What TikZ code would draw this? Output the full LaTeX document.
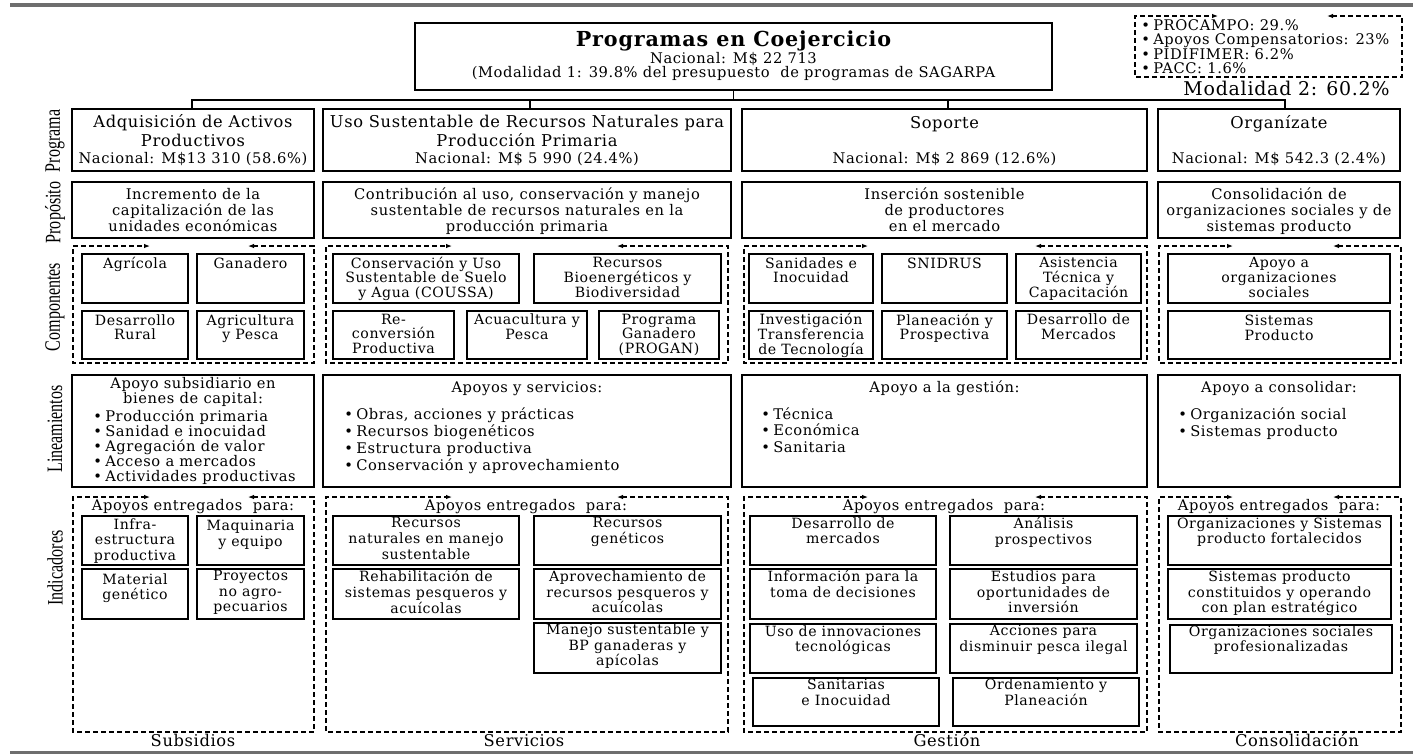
\documentclass[tikz,border=0pt]{standalone}
\usepackage{fontspec}
\setmainfont{DejaVu Serif}[LetterSpace=4]
\newfontfamily\sidefont{Liberation Serif}[FakeStretch=0.73]
\usetikzlibrary{arrows.meta,calc}
\definecolor{bargray}{HTML}{6E6E6E}

% rectangle node from its two corners (pixel-like units)
\newcommand\bx[5]{\node[box, minimum width={(#4-#2)*0.75pt}, minimum height={(#5-#3)*0.75pt}] (#1) at ({(#2+#4)/2},{(#3+#5)/2}) {};}
% centred text inside box #2, at height #3
\newcommand\tx[4][]{\node[txt,#1] (#2-t) at (#2.center |- 0,#3) {#4};}
% dashed group frame with an open top edge ending in two arrows
\newcommand\frm[7]{%
  \coordinate (#1-nw) at (#2,#3); \coordinate (#1-se) at (#4,#5);
  \coordinate (#1-a) at (#6,#3); \coordinate (#1-b) at (#7,#3);
  \draw[frame] (#1-b) -- (#1-nw -| #1-se) -- (#1-se) -- (#1-se -| #1-nw) -- (#1-nw) -- (#1-a);}
\newcommand\blt{\makebox[9pt][l]{•}}

\begin{document}
\begin{tikzpicture}[x=0.75pt,y=-0.75pt,
  box/.style={draw, rectangle, line width=1pt, inner sep=0pt},
  txt/.style={inner sep=0pt, align=center, font=\fontsize{11}{12}\selectfont,
              execute at begin node=\strut, execute at end node=\strut},
  comp/.style={font=\fontsize{10.6}{10.9}\selectfont},
  ind/.style={font=\fontsize{10.6}{11.8}\selectfont},
  prog/.style={font=\fontsize{12.2}{13.9}\selectfont},
  lst/.style={txt, align=left, anchor=west},
  side/.style={inner sep=0pt, rotate=90, font=\sidefont\fontsize{16.5}{18}\selectfont},
  foot/.style={txt, font=\fontsize{12.2}{14}\selectfont},
  frame/.style={draw, line width=0.8pt, dash pattern=on 3.6pt off 2.4pt,
                {Latex[length=4.5pt,width=3.4pt]}-{Latex[length=4.5pt,width=3.4pt]}},
  tree/.style={draw, line width=1pt}]
\useasboundingbox (0,0) rectangle (1413,754);

% page rules
\fill[bargray] (10,3) rectangle (1413,7);
\fill[bargray] (10,750.5) rectangle (1413,754);

% header
\bx{title}{415}{23}{1052}{90}
\node[txt, font=\bfseries\fontsize{15.5}{16}\selectfont] (title-a) at (733.5,41.5) {Programas en Coejercicio};
\node[txt] (title-b) at (733.5,60) {Nacional: M\$ 22 713};
\node[txt] (title-c) at (733.5,74) {(Modalidad 1: 39.8\% del presupuesto\ \ de programas de SAGARPA};

\frm{mod}{1135}{16}{1402}{77}{1218}{1327}
\node[lst, font=\fontsize{11}{10.3}\selectfont] (mod-t) at (1141,48.5)
  {\blt PROCAMPO: 29.\%\\ \blt Apoyos Compensatorios: 23\%\\ \blt PIDIFIMER: 6.2\%\\ \blt PACC: 1.6\%};
\node[txt, font=\fontsize{14.2}{16}\selectfont] (mod2) at (1286.5,91) {Modalidad 2: 60.2\%};

% programmes
\bx{p1}{72}{109}{314}{171}
\bx{p2}{323}{109}{731}{171}
\bx{p3}{742}{109}{1147}{171}
\bx{p4}{1158}{109}{1400}{171}
\tx[prog]{p1}{133.5}{Adquisición de Activos\\Productivos}
\tx[prog]{p2}{133.5}{Uso Sustentable de Recursos Naturales para\\Producción Primaria}
\tx[prog]{p3}{124.5}{Soporte}
\tx[prog]{p4}{124.5}{Organízate}
\node[txt] (p1-n) at (p1.center |- 0,160) {Nacional: M\$13 310 (58.6\%)};
\node[txt] (p2-n) at (p2.center |- 0,160) {Nacional: M\$ 5 990 (24.4\%)};
\node[txt] (p3-n) at (p3.center |- 0,160) {Nacional: M\$ 2 869 (12.6\%)};
\node[txt] (p4-n) at (p4.center |- 0,160) {Nacional: M\$ 542.3 (2.4\%)};

% tree from the header to the programmes
\coordinate (bus) at (0,100);
\coordinate (k1) at ($(p1.north)+(-1,0)$);
\coordinate (k2) at ($(p2.north)+(3,0)$);
\coordinate (k3) at ($(p3.north)+(3.5,0)$);
\coordinate (k4) at ($(p4.north)+(6,0)$);
\draw[tree] (title.south) -- (title.south |- bus);
\draw[tree] (k1) -- (k1 |- bus) -- (k4 |- bus) -- (k4);
\draw[tree] (k2) -- (k2 |- bus);
\draw[tree] (k3) -- (k3 |- bus);

% purpose
\bx{q1}{72}{182}{314}{238}
\bx{q2}{323}{182}{731}{238}
\bx{q3}{742}{182}{1147}{238}
\bx{q4}{1158}{182}{1400}{238}
\tx{q1}{212}{Incremento de la\\capitalización de las\\unidades económicas}
\tx{q2}{212}{Contribución al uso, conservación y manejo\\sustentable de recursos naturales en la\\producción primaria}
\tx{q3}{212}{Inserción sostenible\\de productores\\en el mercado}
\tx{q4}{212}{Consolidación de\\organizaciones sociales y de\\sistemas producto}

% components
\frm{fc1}{73}{246}{314}{363}{150}{248}
\frm{fc2}{326}{246}{728}{363}{452}{617}
\frm{fc3}{744}{246}{1147}{363}{868}{1035}
\frm{fc4}{1159}{246}{1401}{363}{1233}{1333}

\bx{ca1}{82}{254}{188}{303}    \tx[comp]{ca1}{265}{Agrícola}
\bx{ca2}{197}{254}{304}{303}   \tx[comp]{ca2}{265}{Ganadero}
\bx{ca3}{82}{311}{188}{359}    \tx[comp]{ca3}{329.5}{Desarrollo\\Rural}
\bx{ca4}{197}{311}{304}{359}   \tx[comp]{ca4}{329.5}{Agricultura\\y Pesca}

\bx{cb1}{333}{254}{519}{303}   \tx[comp]{cb1}{279.5}{Conservación y Uso\\Sustentable de Suelo\\y Agua (COUSSA)}
\bx{cb2}{534}{254}{721}{303}   \tx[comp]{cb2}{279.5}{Recursos\\Bioenergéticos y\\Biodiversidad}
\bx{cb3}{333}{311}{454}{359}   \tx[comp]{cb3}{336}{Re-\\conversión\\Productiva}
\bx{cb4}{467}{311}{587}{359}   \tx[comp]{cb4}{329}{Acuacultura y\\Pesca}
\bx{cb5}{599}{311}{719}{359}   \tx[comp]{cb5}{336}{Programa\\Ganadero\\(PROGAN)}

\bx{cc1}{749}{254}{873}{303}   \tx[comp]{cc1}{272.5}{Sanidades e\\Inocuidad}
\bx{cc2}{882}{254}{1007}{303}  \tx[comp]{cc2}{265}{SNIDRUS}
\bx{cc3}{1016}{254}{1141}{303} \tx[comp]{cc3}{279.5}{Asistencia\\Técnica y\\Capacitación}
\bx{cc4}{749}{311}{873}{359}   \tx[comp]{cc4}{336}{Investigación\\Transferencia\\de Tecnología}
\bx{cc5}{882}{311}{1007}{359}  \tx[comp]{cc5}{329}{Planeación y\\Prospectiva}
\bx{cc6}{1016}{311}{1141}{359} \tx[comp]{cc6}{329}{Desarrollo de\\Mercados}

\bx{cd1}{1168}{254}{1390}{303} \tx[comp]{cd1}{279.5}{Apoyo a\\organizaciones\\sociales}
\bx{cd2}{1168}{311}{1390}{359} \tx[comp]{cd2}{330}{Sistemas\\Producto}

% guidelines
\bx{l1}{72}{375}{314}{487}
\bx{l2}{323}{375}{731}{487}
\bx{l3}{742}{375}{1147}{487}
\bx{l4}{1158}{375}{1400}{487}
\tx[font=\fontsize{11}{11.2}\selectfont]{l1}{392.5}{Apoyo subsidiario en\\bienes de capital:}
\tx{l2}{389}{Apoyos y servicios:}
\tx{l3}{389}{Apoyo a la gestión:}
\tx{l4}{389}{Apoyo a consolidar:}
\node[lst, font=\fontsize{11}{11.2}\selectfont] (l1-b) at (93,448)
  {\blt Producción primaria\\ \blt Sanidad e inocuidad\\ \blt Agregación de valor\\ \blt Acceso a mercados\\ \blt Actividades productivas};
\node[lst, font=\fontsize{11}{12.7}\selectfont] (l2-b) at (344,441.5)
  {\blt Obras, acciones y prácticas\\ \blt Recursos biogenéticos\\ \blt Estructura productiva\\ \blt Conservación y aprovechamiento};
\node[lst, font=\fontsize{11}{12.4}\selectfont] (l3-b) at (761,432.5)
  {\blt Técnica\\ \blt Económica\\ \blt Sanitaria};
\node[lst, font=\fontsize{11}{12.5}\selectfont] (l4-b) at (1178,424.5)
  {\blt Organización social\\ \blt Sistemas producto};

% indicators
\frm{fi1}{73}{497}{314}{732}{150}{248}
\frm{fi2}{326}{497}{728}{732}{452}{617}
\frm{fi3}{744}{497}{1147}{732}{868}{1035}
\frm{fi4}{1159}{497}{1401}{732}{1233}{1333}
\node[txt] (fi1-h) at (193,507) {Apoyos entregados\ \ para:};
\node[txt] (fi2-h) at (526,507) {Apoyos entregados\ \ para:};
\node[txt] (fi3-h) at (944,507) {Apoyos entregados\ \ para:};
\node[txt] (fi4-h) at (1279,507) {Apoyos entregados\ \ para:};

\bx{ia1}{82}{516}{188}{565}    \tx[ind]{ia1}{541.8}{Infra-\\estructura\\productiva}
\bx{ia2}{197}{516}{304}{565}   \tx[ind]{ia2}{535.5}{Maquinaria\\y equipo}
\bx{ia3}{82}{569}{188}{619}    \tx[ind]{ia3}{589}{Material\\genético}
\bx{ia4}{197}{569}{304}{619}   \tx[ind]{ia4}{593.4}{Proyectos\\no agro-\\pecuarios}

\bx{ib1}{333}{516}{519}{565}   \tx[ind]{ib1}{540.5}{Recursos\\naturales en manejo\\sustentable}
\bx{ib2}{534}{516}{721}{565}   \tx[ind]{ib2}{533}{Recursos\\genéticos}
\bx{ib3}{333}{569}{519}{619}   \tx[ind]{ib3}{594}{Rehabilitación de\\sistemas pesqueros y\\acuícolas}
\bx{ib4}{534}{569}{721}{619}   \tx[ind]{ib4}{594}{Aprovechamiento de\\recursos pesqueros y\\acuícolas}
\bx{ib5}{534}{623}{721}{673}   \tx[ind]{ib5}{647}{Manejo sustentable y\\BP ganaderas y\\apícolas}

\bx{ic1}{750}{516}{936}{565}   \tx[ind]{ic1}{533}{Desarrollo de\\mercados}
\bx{ic2}{950}{516}{1137}{565}  \tx[ind]{ic2}{533}{Análisis\\prospectivos}
\bx{ic3}{750}{569}{936}{619}   \tx[ind]{ic3}{586}{Información para la\\toma de decisiones}
\bx{ic4}{950}{569}{1137}{619}  \tx[ind]{ic4}{594}{Estudios para\\oportunidades de\\inversión}
\bx{ic5}{750}{624}{936}{673}   \tx[ind]{ic5}{641}{Uso de innovaciones\\tecnológicas}
\bx{ic6}{950}{624}{1137}{673}  \tx[ind]{ic6}{641}{Acciones para\\disminuir pesca ilegal}
\bx{ic7}{753}{678}{939}{726}   \tx[ind]{ic7}{694.5}{Sanitarias\\e Inocuidad}
\bx{ic8}{953}{678}{1139}{726}  \tx[ind]{ic8}{694.5}{Ordenamiento y\\Planeación}

\bx{id1}{1168}{516}{1391}{565} \tx[ind]{id1}{533}{Organizaciones y Sistemas\\producto fortalecidos}
\bx{id2}{1168}{569}{1391}{619} \tx[ind]{id2}{594}{Sistemas producto\\constituidos y operando\\con plan estratégico}
\bx{id3}{1170}{625}{1392}{673} \tx[ind]{id3}{641}{Organizaciones sociales\\profesionalizadas}

% row titles
\node[side] (s1) at (55,141) {Programa};
\node[side] (s2) at (55,212.5) {Propósito};
\node[side] (s3) at (55,307) {Componentes};
\node[side] (s4) at (55,429) {Lineamientos};
\node[side] (s5) at (55,568) {Indicadores};

% column titles
\node[foot] (f1) at (193,743) {Subsidios};
\node[foot] (f2) at (524,743) {Servicios};
\node[foot] (f3) at (947,743) {Gestión};
\node[foot] (f4) at (1297,743) {Consolidación};
\end{tikzpicture}
\end{document}
